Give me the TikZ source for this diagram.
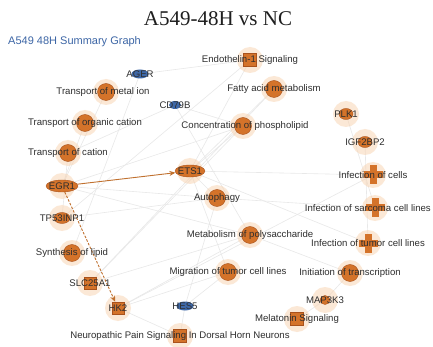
\documentclass[tikz,border=0pt]{standalone}
\usepackage{fontspec}
\setmainfont{Liberation Serif}
\setsansfont{Liberation Sans}
\usetikzlibrary{shapes.geometric,arrows.meta}
\definecolor{org}{HTML}{D4732A}
\definecolor{orgd}{HTML}{A9521C}
\definecolor{halo}{HTML}{F8D2AE}
\definecolor{blu}{HTML}{3E68A8}
\definecolor{ttl}{HTML}{3D66A6}
\definecolor{arr}{HTML}{C0702E}
\begin{document}
\begin{tikzpicture}[x=1pt,y=-1pt,
  fn/.style={circle, fill=org, draw=orgd, line width=0.4pt, minimum size=17pt, inner sep=0pt},
  sqn/.style={rectangle, fill=org, draw=orgd, line width=0.4pt, minimum size=13pt, inner sep=0pt},
  crs/.style={rectangle, fill=org, minimum width=7pt, minimum height=19pt, inner sep=0pt},
  gene/.style={ellipse, fill=org, draw=orgd, line width=0.4pt, minimum width=30pt, minimum height=12pt, inner sep=0pt},
  sgene/.style={ellipse, fill=org, draw=orgd, line width=0.4pt, minimum width=14pt, minimum height=11pt, inner sep=0pt},
  sqgene/.style={rectangle, fill=org, draw=orgd, line width=0.4pt, minimum size=12pt, inner sep=0pt},
  bgene/.style={ellipse, fill=blu, minimum width=17pt, minimum height=9pt, inner sep=0pt},
  lbl/.style={font=\sffamily\fontsize{9.6}{10}\selectfont, text=black!82, inner sep=0pt},
  faint/.style={draw=gray!18, line width=0.6pt},
  mainarr/.style={draw=arr, line width=0.9pt, -{Stealth[length=6pt,width=5pt]}}
]
\fill[white] (0,0) rectangle (433,347);
\useasboundingbox (0,0) rectangle (433,347);

% title
\node[font=\fontsize{21}{22}\selectfont, text=black!88] (title) at (218,19) {A549-48H vs NC};
\node[anchor=west, font=\sffamily\fontsize{11}{12}\selectfont, text=ttl, inner sep=0pt] (sub) at (8,42) {A549 48H Summary Graph};

% coordinates of nodes
\coordinate (pAGER) at (140,74);
\coordinate (pCD) at (175,105);
\coordinate (pPLK) at (346,114);
\coordinate (pIGF) at (365,142);
\coordinate (pETS) at (190,171);
\coordinate (pEGR) at (62,186);
\coordinate (pTP) at (62,218);
\coordinate (pSLC) at (90,283);
\coordinate (pHK) at (118,308);
\coordinate (pHES) at (185,306);
\coordinate (pMAP) at (325,300);
\coordinate (pendo) at (250,60);
\coordinate (ptmi) at (106,92);
\coordinate (pfam) at (274,89);
\coordinate (ptoc) at (85,123);
\coordinate (pcop) at (243,126);
\coordinate (ptoca) at (68,153);
\coordinate (pioc) at (373,175);
\coordinate (paut) at (217,198);
\coordinate (pios) at (375,208);
\coordinate (pmop) at (250,235);
\coordinate (piot) at (368,243);
\coordinate (psol) at (72,253);
\coordinate (pmig) at (228,272);
\coordinate (pitr) at (350,273);
\coordinate (pmel) at (297,319);
\coordinate (pneu) at (180,336);

% faint background edges
\draw[faint] (pEGR) -- (ptoc);
\draw[faint] (pEGR) -- (ptmi);
\draw[faint] (pEGR) -- (paut);
\draw[faint] (pEGR) -- (pmop);
\draw[faint] (pEGR) -- (pcop);
\draw[faint] (pETS) -- (pcop);
\draw[faint] (pETS) -- (paut);
\draw[faint] (pETS) -- (pmig);
\draw[faint] (pETS) -- (pioc);
\draw[faint] (pETS) -- (piot);
\draw[faint] (pETS) -- (pfam);
\draw[faint] (pETS) -- (pendo);
\draw[faint] (pHK) -- (pmig);
\draw[faint] (pHK) -- (pioc);
\draw[faint] (pHK) -- (pmop);
\draw[faint] (pHK) -- (pneu);
\draw[faint] (pSLC) -- (pmop);
\draw[faint] (pSLC) -- (pcop);
\draw[faint] (pSLC) -- (pfam);
\draw[faint] (pTP) -- (pendo);
\draw[faint] (pTP) -- (paut);
\draw[faint] (pTP) -- (ptoca);
\draw[faint] (pHES) -- (pmig);
\draw[faint] (pHES) -- (pneu);
\draw[faint] (pHES) -- (paut);
\draw[faint] (pCD) -- (pcop);
\draw[faint] (pCD) -- (pmop);
\draw[faint] (pCD) -- (ptoca);
\draw[faint] (pAGER) -- (pendo);
\draw[faint] (pAGER) -- (psol);
\draw[faint] (pPLK) -- (pios);
\draw[faint] (pIGF) -- (piot);
\draw[faint] (pMAP) -- (pitr);
\draw[faint] (pMAP) -- (pmel);
\draw[faint] (paut) -- (pios);
\draw[faint] (pmop) -- (pitr);

% halos
\foreach \p in {ptmi,pfam,ptoc,pcop,ptoca,paut,pmop,psol,pmig,pitr,pendo,pmel,pneu,pioc,pios,piot,pEGR,pETS,pTP,pSLC,pHK,pPLK,pIGF,pMAP}
  \fill[halo, opacity=0.5] (\p) circle (13pt);

% function nodes
\node[sqn] (endo) at (pendo) {};
\node[fn] (tmi) at (ptmi) {};
\node[fn] (fam) at (pfam) {};
\node[fn] (toc) at (ptoc) {};
\node[fn] (cop) at (pcop) {};
\node[fn] (toca) at (ptoca) {};
\node[crs] (ioc) at (pioc) {};
\fill[org] ([xshift=-9.5pt,yshift=-3.5pt]ioc.center) rectangle ++(19pt,7pt);
\node[fn] (aut) at (paut) {};
\node[crs] (ios) at (pios) {};
\fill[org] ([xshift=-9.5pt,yshift=-3.5pt]ios.center) rectangle ++(19pt,7pt);
\node[fn] (mop) at (pmop) {};
\node[crs] (iot) at (piot) {};
\fill[org] ([xshift=-9.5pt,yshift=-3.5pt]iot.center) rectangle ++(19pt,7pt);
\node[fn] (sol) at (psol) {};
\node[fn] (mig) at (pmig) {};
\node[fn] (itr) at (pitr) {};
\node[sqn] (mel) at (pmel) {};
\node[sqn] (neu) at (pneu) {};

% gene nodes
\node[bgene] (AGER) at (pAGER) {};
\node[bgene, minimum width=12pt, minimum height=8pt] (CD) at (pCD) {};
\node[sgene] (PLK) at (pPLK) {};
\node[sgene] (IGF) at (pIGF) {};
\node[gene] (ETS) at (pETS) {};
\node[gene, minimum width=32pt] (EGR) at (pEGR) {};
\node[sgene, minimum width=16pt] (TP) at (pTP) {};
\node[sqgene] (SLC) at (pSLC) {};
\node[sqgene] (HK) at (pHK) {};
\node[bgene] (HES) at (pHES) {};
\node[sgene, minimum width=10pt, minimum height=9pt] (MAP) at (pMAP) {};

% main relationships
\draw[mainarr] (EGR) -- (ETS);
\draw[mainarr, dashed, dash pattern=on 2.5pt off 1.5pt] (EGR) -- (HK);

% labels
\node[lbl] (tendo) at (pendo) {Endothelin-1 Signaling};
\node[lbl] (ttmi) at ([xshift=-3pt]ptmi) {Transport of metal ion};
\node[lbl] (tfam) at (pfam) {Fatty acid metabolism};
\node[lbl] (ttoc) at (ptoc) {Transport of organic cation};
\node[lbl] (tcop) at ([xshift=2pt]pcop) {Concentration of phospholipid};
\node[lbl] (ttoca) at (ptoca) {Transport of cation};
\node[lbl] (tioc) at (pioc) {Infection of cells};
\node[lbl] (taut) at (paut) {Autophagy};
\node[lbl, anchor=east] (tios) at (431,208) {Infection of sarcoma cell lines};
\node[lbl] (tmop) at (pmop) {Metabolism of polysaccharide};
\node[lbl] (tiot) at (piot) {Infection of tumor cell lines};
\node[lbl] (tsol) at (psol) {Synthesis of lipid};
\node[lbl] (tmig) at (pmig) {Migration of tumor cell lines};
\node[lbl] (titr) at (pitr) {Initiation of transcription};
\node[lbl] (tmel) at (pmel) {Melatonin Signaling};
\node[lbl] (tneu) at (pneu) {Neuropathic Pain Signaling In Dorsal Horn Neurons};

\node[lbl] (tAGER) at (pAGER) {AGER};
\node[lbl] (tCD) at (pCD) {CD79B};
\node[lbl] (tPLK) at (pPLK) {PLK1};
\node[lbl] (tIGF) at (pIGF) {IGF2BP2};
\node[lbl] (tETS) at (pETS) {ETS1};
\node[lbl] (tEGR) at (pEGR) {EGR1};
\node[lbl] (tTP) at (pTP) {TP53INP1};
\node[lbl] (tSLC) at (pSLC) {SLC25A1};
\node[lbl] (tHK) at (pHK) {HK2};
\node[lbl] (tHES) at (pHES) {HES5};
\node[lbl] (tMAP) at (pMAP) {MAP3K3};
\end{tikzpicture}
\end{document}
